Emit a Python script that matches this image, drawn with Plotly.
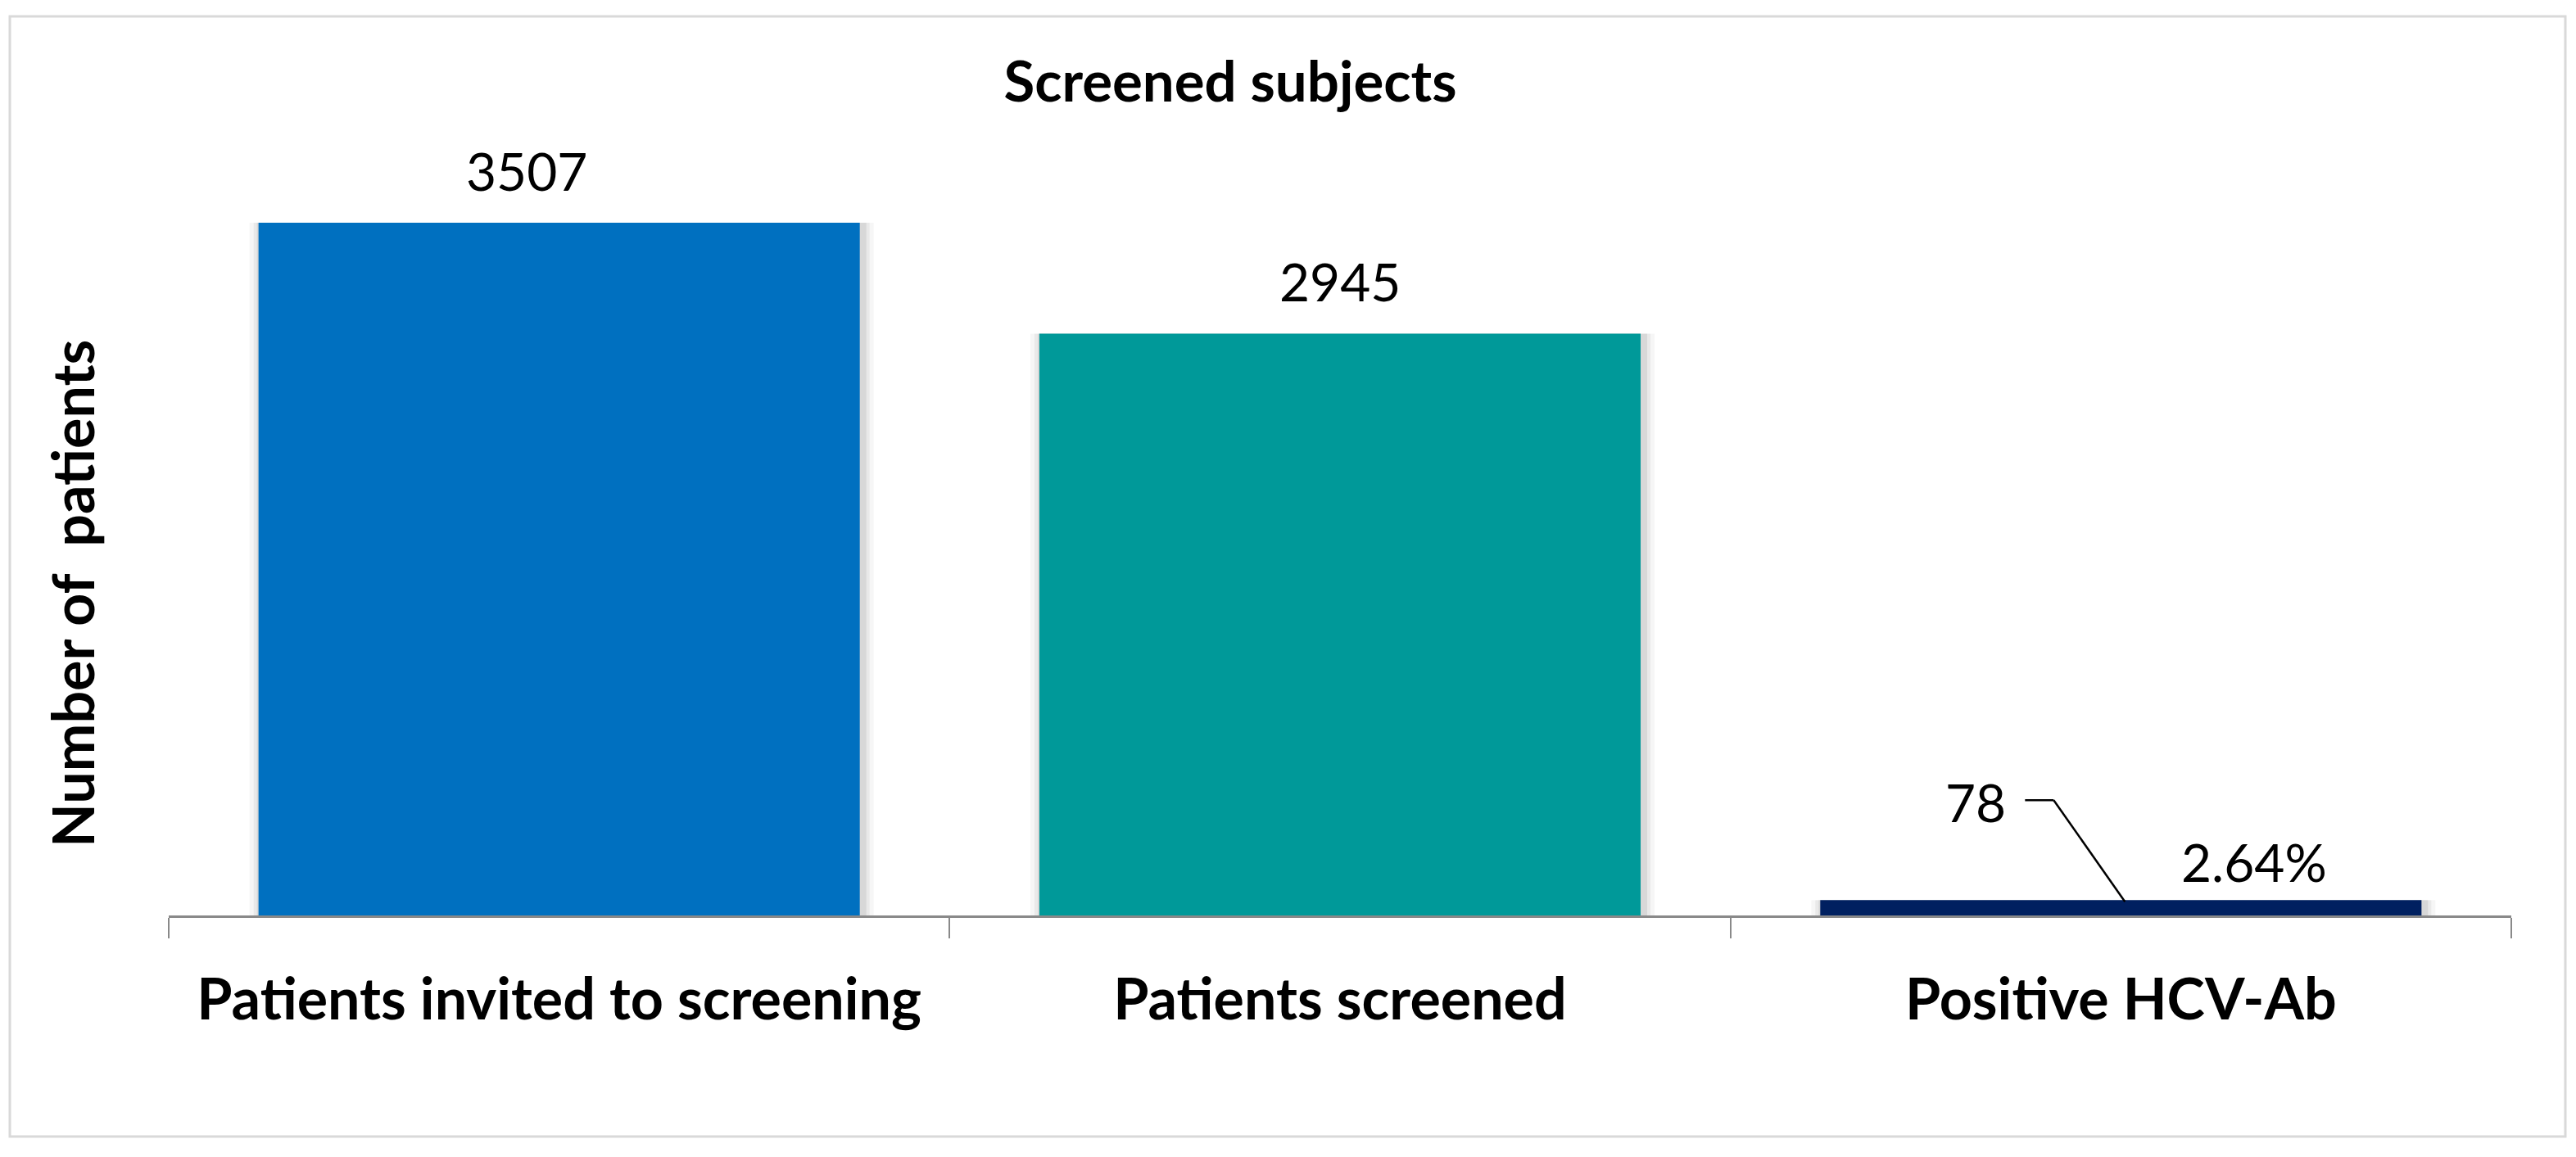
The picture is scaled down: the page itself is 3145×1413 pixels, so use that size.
import plotly.graph_objects as go

# ---- data ----
categories = ["Patients invited to screening", "Patients screened", "Positive HCV-Ab"]
values = [3507, 2945, 78]
bar_colors = ["#0070C0", "#009999", "#002060"]
pct_labels = ["", "", "2.64%"]
chart_title = "Screened subjects"
y_title = "Number of  patients"

W, H = 3145, 1413
OFF = 8  # page body margin
# plot area in page pixels
PX_L, PX_R, PX_T, PX_AX = 206, 3066, 118, 1118
L, R, T, B = PX_L - OFF, W - (PX_R - OFF), PX_T - OFF, H - (PX_AX - OFF)
plot_w = PX_R - PX_L
plot_h = PX_AX - PX_T
px_per_unit = 0.24123
ymax = plot_h / px_per_unit
bar_w = 0.77
FONT = "Lato, Carlito, 'Open Sans', sans-serif"


def xp(px):
    return (px - PX_L) / plot_w


def yp(py):
    return (PX_AX - py) / plot_h


fig = go.Figure()

# soft shadow layers behind bars
unit_per_px = 3.0 / plot_w
for k, a in [(14, 0.035), (9, 0.05), (5, 0.07)]:
    ww = bar_w + 2 * k * unit_per_px
    fig.add_trace(go.Bar(
        x=categories, y=values,
        width=[ww] * len(values),
        offset=[-ww / 2 + 3 * unit_per_px] * len(values),
        marker=dict(color=f"rgba(0,0,0,{a})", line=dict(width=0)),
        hoverinfo="skip", showlegend=False,
    ))

fig.add_trace(go.Bar(
    x=categories, y=values,
    width=[bar_w] * len(values),
    marker=dict(color=bar_colors, line=dict(width=0)),
    showlegend=False,
))

value_xshift = [-40, 0]
annotations = []
for c, v, xs in zip(categories[:2], values[:2], value_xshift):
    annotations.append(dict(
        x=c, y=v, xref="x", yref="y", text=str(v), showarrow=False,
        xshift=xs, yshift=64, yanchor="middle",
        font=dict(family=FONT, size=64, color="black"),
    ))
# label of the small bar, placed away with a leader line
annotations.append(dict(
    x=categories[2], y=values[2], xref="x", yref="y", text=str(values[2]),
    showarrow=False, xshift=-177, yshift=120, yanchor="middle",
    font=dict(family=FONT, size=64, color="black"),
))
annotations.append(dict(
    x=categories[2], y=values[2], xref="x", yref="y", text=pct_labels[2],
    showarrow=False, xshift=163, yshift=47, yanchor="middle",
    font=dict(family=FONT, size=64, color="black"),
))
# y-axis title
annotations.append(dict(
    x=xp(88), y=yp(725), xref="paper", yref="paper",
    xanchor="center", yanchor="middle",
    text=f"<b>{y_title}</b>", showarrow=False, textangle=-90,
    font=dict(family=FONT, size=70, color="black"),
))

shapes = [
    dict(type="rect", xref="paper", yref="paper",
         x0=xp(12), x1=xp(3132), y0=yp(1388), y1=yp(20),
         line=dict(color="#D9D9D9", width=3), fillcolor="rgba(0,0,0,0)",
         layer="below"),
    # leader line: horizontal stub + diagonal to the bar top
    dict(type="line", xref="x", yref="y", xsizemode="pixel", ysizemode="pixel",
         xanchor=categories[2], yanchor=values[2],
         x0=-117, x1=-82, y0=122, y1=122, line=dict(color="black", width=2.5)),
    dict(type="line", xref="x", yref="y", xsizemode="pixel", ysizemode="pixel",
         xanchor=categories[2], yanchor=values[2],
         x0=-82, x1=5, y0=122, y1=-2, line=dict(color="black", width=2.5)),
]

fig.update_layout(
    width=W, height=H,
    margin=dict(l=L, r=R, t=T, b=B),
    paper_bgcolor="white", plot_bgcolor="white",
    barmode="overlay",
    title=dict(text=f"<b>{chart_title}</b>", x=(1502 - OFF) / W, xanchor="center",
               y=1 - (100 - OFF) / H, yanchor="middle", yref="container",
               font=dict(family=FONT, size=69, color="black")),
    annotations=annotations,
    shapes=shapes,
    xaxis=dict(type="category", range=[-0.5, 2.5], showline=True,
               linecolor="#898989", linewidth=3, ticks="outside",
               tickson="boundaries", ticklen=25, tickwidth=2, tickcolor="#898989",
               showgrid=False, ticklabelstandoff=40,
               tickfont=dict(family=FONT, size=70, color="black"),
               tickprefix="<b>", ticksuffix="</b>"),
    yaxis=dict(range=[0, ymax], visible=False, showgrid=False),
)

fig.write_html("out.html")
